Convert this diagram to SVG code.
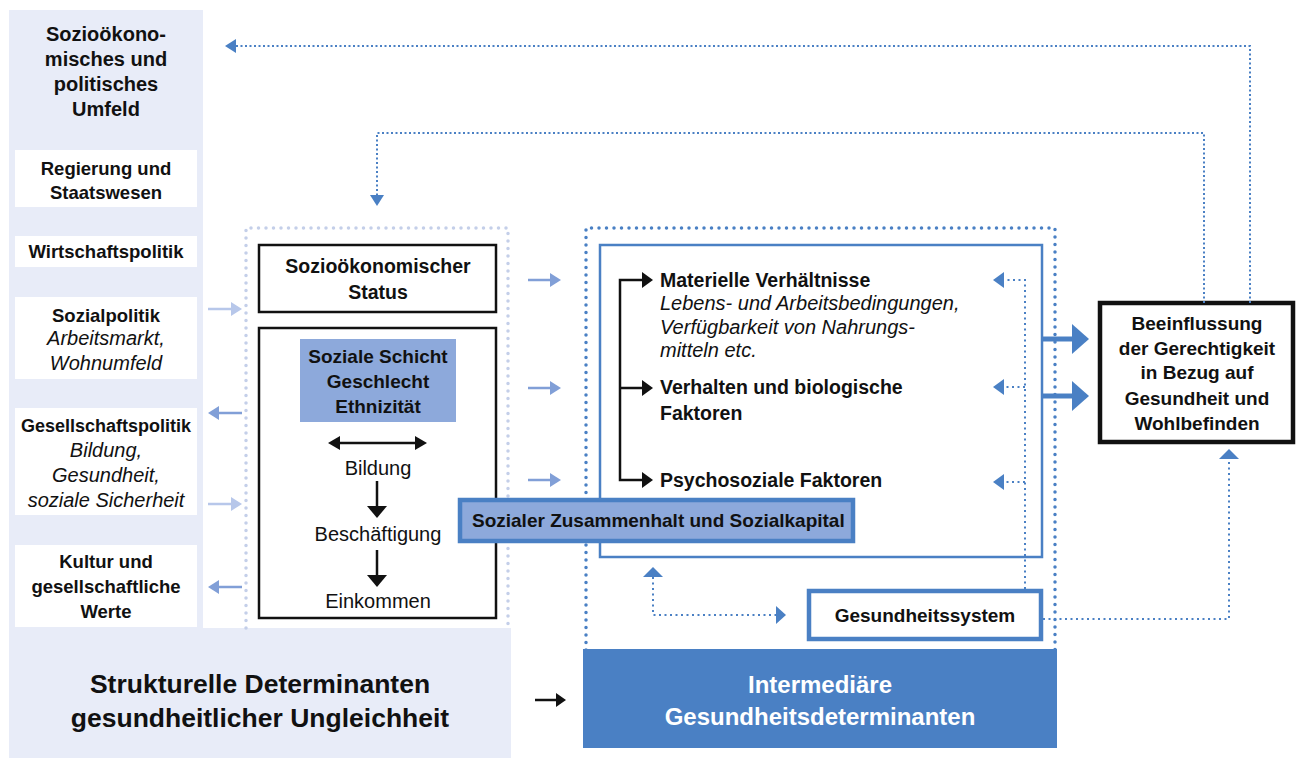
<svg xmlns="http://www.w3.org/2000/svg" width="1300" height="758" viewBox="0 0 1300 758">
<style>
.t{font-family:"Liberation Sans",Arial,sans-serif;fill:#111;}
.b{font-weight:bold;}
.i{font-style:italic;font-size:20px;}
.s19{font-size:19px;}
.s18{font-size:18.5px;}
.s195{font-size:19.5px;}
.r20{font-size:20px;}
.mid{text-anchor:middle;}
.blk{stroke:#111;fill:none;}
.dotB{fill:none;stroke:#4A80C4;stroke-width:3.5;stroke-linecap:round;stroke-dasharray:0 7.5;}
.dotL{fill:none;stroke:#C4CFE9;stroke-width:3.5;stroke-linecap:round;stroke-dasharray:0 7.5;}
.fine{fill:none;stroke:#4A80C4;stroke-width:2;stroke-dasharray:2 2.5;}
.fine2{fill:none;stroke:#4A80C4;stroke-width:2;stroke-dasharray:2 3.5;}
</style>
<rect width="1300" height="758" fill="#fff"/>
<g id="left-panel">
<rect x="9" y="10" width="194" height="618" fill="#E8ECF8"/>
<text class="t b mid" style="font-size:20px" x="106" y="41">Sozioökono-</text>
<text class="t b mid" style="font-size:20px" x="106" y="66">misches und</text>
<text class="t b mid" style="font-size:20px" x="106" y="91">politisches</text>
<text class="t b mid" style="font-size:20px" x="106" y="116">Umfeld</text>
</g>
<g id="regierung">
<rect x="15" y="150" width="182" height="57" fill="#fff"/>
<text class="t b s18 mid" x="106" y="175">Regierung und</text>
<text class="t b s18 mid" x="106" y="199">Staatswesen</text>
</g>
<g id="wirtschaft">
<rect x="15" y="236" width="182" height="31" fill="#fff"/>
<text class="t b s18 mid" x="106" y="258">Wirtschaftspolitik</text>
</g>
<g id="sozialpolitik">
<rect x="15" y="297" width="182" height="82" fill="#fff"/>
<text class="t b s18 mid" x="106" y="322">Sozialpolitik</text>
<text class="t i mid" x="106" y="345">Arbeitsmarkt,</text>
<text class="t i mid" x="106" y="370">Wohnumfeld</text>
</g>
<g id="gesellschaft">
<rect x="15" y="408" width="182" height="107" fill="#fff"/>
<text class="t b mid" style="font-size:18px" x="106" y="432">Gesellschaftspolitik</text>
<text class="t i mid" x="106" y="457">Bildung,</text>
<text class="t i mid" x="106" y="482">Gesundheit,</text>
<text class="t i mid" x="106" y="507">soziale Sicherheit</text>
</g>
<g id="kultur">
<rect x="15" y="545" width="182" height="82" fill="#fff"/>
<text class="t b s18 mid" x="106" y="568">Kultur und</text>
<text class="t b s18 mid" x="106" y="593">gesellschaftliche</text>
<text class="t b s18 mid" x="106" y="618">Werte</text>
</g>
<g id="strukturelle">
<rect x="9" y="628" width="502" height="130" fill="#E8ECF8"/>
<text class="t b mid" style="font-size:26.5px" x="260" y="693">Strukturelle Determinanten</text>
<text class="t b mid" style="font-size:26.5px" x="260" y="727">gesundheitlicher Ungleichheit</text>
</g>
<g id="middle-column">
<path class="dotL" d="M246 628 V228 H508 V628"/>
</g>
<g id="status">
<rect x="259" y="245" width="237" height="67" fill="#fff" stroke="#111" stroke-width="2.5"/>
<text class="t b s195 mid" x="378" y="273">Sozioökonomischer</text>
<text class="t b s195 mid" x="378" y="299">Status</text>
</g>
<g id="schicht-box">
<rect x="259" y="328" width="237" height="290" fill="#fff" stroke="#111" stroke-width="2.5"/>
<rect x="300" y="339" width="156" height="83" fill="#8DA9DB"/>
<text class="t b s19 mid" x="378" y="363">Soziale Schicht</text>
<text class="t b s19 mid" x="378" y="388">Geschlecht</text>
<text class="t b s19 mid" x="378" y="413">Ethnizität</text>
<text class="t r20 mid" x="378" y="475">Bildung</text>
<text class="t r20 mid" x="378" y="541">Beschäftigung</text>
<text class="t r20 mid" x="378" y="608">Einkommen</text>
</g>
<g id="center-frame">
<path class="dotB" d="M586 650 V228 H1055 V650"/>
</g>
<g id="inner-box">
<rect x="600" y="245" width="442" height="312" fill="#fff" stroke="#4A80C4" stroke-width="2.5"/>
<text class="t b s195" x="660" y="287">Materielle Verhältnisse</text>
<text class="t i" x="660" y="310">Lebens- und Arbeitsbedingungen,</text>
<text class="t i" x="660" y="334">Verfügbarkeit von Nahrungs-</text>
<text class="t i" x="660" y="357">mitteln etc.</text>
<text class="t b s195" x="660" y="394">Verhalten und biologische</text>
<text class="t b s195" x="660" y="420">Faktoren</text>
<text class="t b s195" x="660" y="487">Psychosoziale Faktoren</text>
</g>
<g id="zusammenhalt">
<rect x="460" y="500" width="393" height="41" fill="#8DA9DB" stroke="#4A80C4" stroke-width="4.5"/>
<text class="t b s19" x="472" y="527">Sozialer Zusammenhalt und Sozialkapital</text>
</g>
<g id="gesundheitssystem">
<rect x="809" y="591" width="232" height="48" fill="#fff" stroke="#4A80C4" stroke-width="4.5"/>
<text class="t b s19 mid" x="925" y="622">Gesundheitssystem</text>
</g>
<g id="intermediaere">
<rect x="583" y="649" width="474" height="99" fill="#4A80C4"/>
<text class="t b mid" style="font-size:24px;fill:#fff" x="820" y="693">Intermediäre</text>
<text class="t b mid" style="font-size:24px;fill:#fff" x="820" y="725">Gesundheitsdeterminanten</text>
</g>
<g id="beeinflussung">
<rect x="1100" y="303" width="193" height="139" fill="#fff" stroke="#111" stroke-width="4.5"/>
<text class="t b s19 mid" x="1197" y="330">Beeinflussung</text>
<text class="t b s19 mid" x="1197" y="355">der Gerechtigkeit</text>
<text class="t b s19 mid" x="1197" y="379">in Bezug auf</text>
<text class="t b s19 mid" x="1197" y="405">Gesundheit und</text>
<text class="t b s19 mid" x="1197" y="430">Wohlbefinden</text>
</g>
<g id="connectors">
<g stroke-width="2.5">
<line x1="208" y1="309" x2="232" y2="309" stroke="#B7C7EA"/>
<polygon points="242,309 231,302 231,316" fill="#B7C7EA"/>
<line x1="218" y1="413" x2="242" y2="413" stroke="#819FD7"/>
<polygon points="208,413 219,406 219,420" fill="#819FD7"/>
<line x1="208" y1="504" x2="232" y2="504" stroke="#B7C7EA"/>
<polygon points="242,504 231,497 231,511" fill="#B7C7EA"/>
<line x1="218" y1="587" x2="242" y2="587" stroke="#819FD7"/>
<polygon points="208,587 219,580 219,594" fill="#819FD7"/>
</g>
<g stroke="#819FD7" stroke-width="2.5">
<line x1="528" y1="280" x2="551" y2="280"/>
<line x1="528" y1="388" x2="551" y2="388"/>
<line x1="528" y1="480" x2="551" y2="480"/>
</g>
<g fill="#819FD7">
<polygon points="561,280 550,273 550,287"/>
<polygon points="561,388 550,381 550,395"/>
<polygon points="561,480 550,473 550,487"/>
</g>
<line class="blk" x1="338" y1="443" x2="417" y2="443" stroke-width="2.5"/>
<polygon points="328,443 340,436 340,450" fill="#111"/>
<polygon points="427,443 415,436 415,450" fill="#111"/>
<line class="blk" x1="377" y1="481" x2="377" y2="508" stroke-width="2.5"/>
<polygon points="377,518 367,506 387,506" fill="#111"/>
<line class="blk" x1="377" y1="550" x2="377" y2="577" stroke-width="2.5"/>
<polygon points="377,587 367,575 387,575" fill="#111"/>
<path class="blk" d="M643 280 H620 V480 H643 M620 388 H643" stroke-width="2.5"/>
<polygon points="653,280 642,272 642,288" fill="#111"/>
<polygon points="653,388 642,380 642,396" fill="#111"/>
<polygon points="653,480 642,472 642,488" fill="#111"/>
<g stroke="#4A80C4" stroke-width="5">
<line x1="1042" y1="339" x2="1074" y2="339"/>
<line x1="1042" y1="396" x2="1074" y2="396"/>
</g>
<polygon points="1089,339 1072,324 1072,354" fill="#4A80C4"/>
<polygon points="1089,396 1072,381 1072,411" fill="#4A80C4"/>
<path class="fine2" d="M1025 589 V280 H1003 M1025 387 H1003 M1025 482 H1003"/>
<polygon points="993,280 1004,272 1004,288" fill="#4A80C4"/>
<polygon points="993,387 1004,379 1004,395" fill="#4A80C4"/>
<polygon points="993,482 1004,474 1004,490" fill="#4A80C4"/>
<path class="fine2" d="M653 577 V615 H776"/>
<polygon points="653,567 643,577 663,577" fill="#4A80C4"/>
<polygon points="786,615 776,606 776,624" fill="#4A80C4"/>
<path class="fine2" d="M1043 619 H1229 V459"/>
<polygon points="1229,449 1219,459 1239,459" fill="#4A80C4"/>
<path class="fine" d="M1250 303 V46 H236"/>
<polygon points="225,46 236,39 236,53" fill="#4A80C4"/>
<path class="fine" d="M1204 303 V133 H377 V195"/>
<polygon points="377,206 370,195 384,195" fill="#4A80C4"/>
<line class="blk" x1="535" y1="700" x2="557" y2="700" stroke-width="2.5"/>
<polygon points="566,700 556,693 556,707" fill="#111"/>
</g>
</svg>
